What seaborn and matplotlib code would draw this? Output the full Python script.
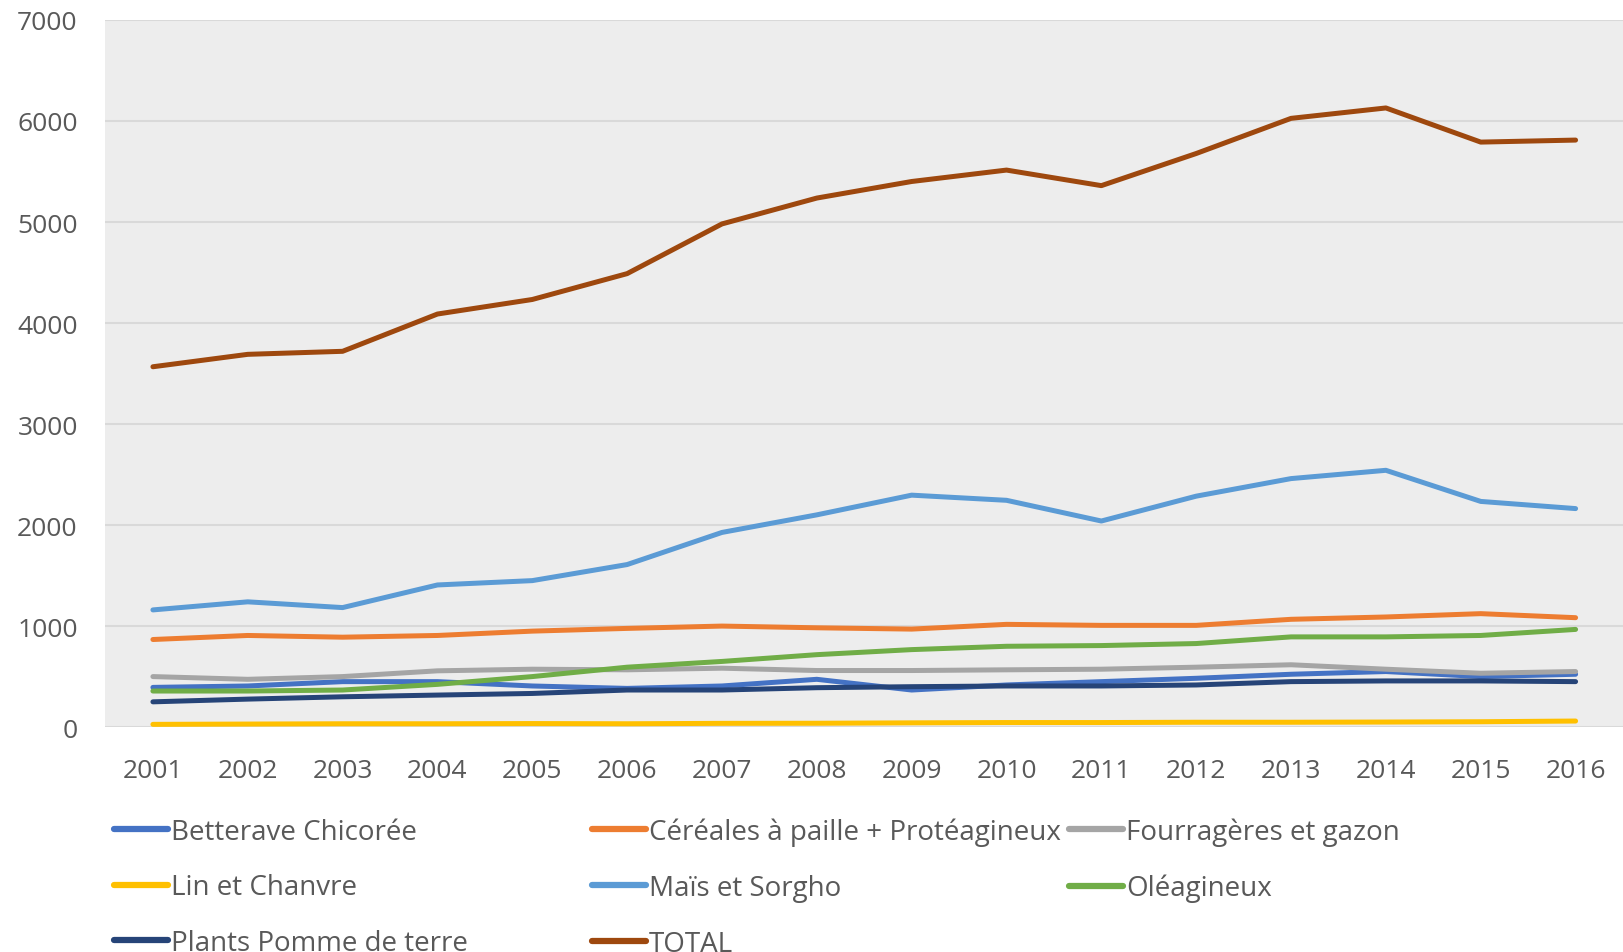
import matplotlib
matplotlib.use("Agg")
import matplotlib.pyplot as plt
import seaborn as sns
import pandas as pd
from matplotlib.lines import Line2D

years = list(range(2001, 2017))

betterave = [393, 407, 450, 450, 407, 383, 407, 473, 367, 417, 450, 483, 523, 550, 500, 523]
cereales = [867, 907, 890, 907, 950, 977, 1000, 983, 970, 1017, 1007, 1007, 1067, 1090, 1123, 1083]
fourrageres = [500, 473, 500, 557, 573, 567, 583, 560, 560, 567, 573, 593, 617, 573, 533, 550]
lin = [27, 30, 33, 33, 35, 33, 37, 38, 42, 45, 45, 48, 48, 50, 53, 60]
mais = [1160, 1240, 1183, 1407, 1450, 1609, 1927, 2101, 2296, 2245, 2040, 2286, 2460, 2542, 2234, 2163]
oleagineux = [357, 357, 367, 423, 500, 593, 650, 717, 767, 800, 807, 827, 893, 893, 907, 967]
plants = [250, 277, 300, 317, 333, 367, 367, 390, 400, 407, 407, 417, 450, 457, 457, 450]
total = [3567, 3690, 3720, 4089, 4233, 4489, 4981, 5237, 5401, 5514, 5360, 5678, 6026, 6129, 5791, 5811]

series_names = ["Betterave Chicorée", "Céréales à paille + Protéagineux", "Fourragères et gazon",
                "Lin et Chanvre", "Maïs et Sorgho", "Oléagineux", "Plants Pomme de terre", "TOTAL"]
series_values = [betterave, cereales, fourrageres, lin, mais, oleagineux, plants, total]
colors = ["#4472C4", "#ED7D31", "#A5A5A5", "#FFC000", "#5B9BD5", "#70AD47", "#264478", "#9E480E"]

rows = []
for name, vals in zip(series_names, series_values):
    for y, v in zip(years, vals):
        rows.append({"annee": y, "valeur": v, "culture": name})
df = pd.DataFrame(rows)

sns.set_style("white")
plt.rcParams["font.family"] = ["Open Sans", "DejaVu Sans"]
txt = "#595959"

fig = plt.figure(figsize=(16.23, 9.53), dpi=100)
ax = fig.add_axes([0.065, 0.236, 0.935, 0.742])
ax.set_facecolor("#EDEDED")

sns.lineplot(data=df, x="annee", y="valeur", hue="culture", hue_order=series_names,
             palette=colors, linewidth=3.6, ax=ax, legend=False, zorder=3)
for line in ax.lines:
    line.set_solid_capstyle("round")

ax.set_xlim(2000.5, 2016.5)
ax.set_ylim(0, 7000)
ax.set_xticks(years)
ax.set_yticks(range(0, 7001, 1000))
ax.grid(axis="y", color="#D9D9D9", linewidth=1.5, zorder=0)
ax.set_axisbelow(True)
for s in ax.spines.values():
    s.set_visible(False)
ax.tick_params(axis="both", length=0, labelsize=19, colors=txt)
ax.tick_params(axis="x", pad=22)
ax.tick_params(axis="y", pad=20)
ax.set_xlabel("")
ax.set_ylabel("")

# legend in three fixed columns like the Excel layout
col_x = [114 / 1623, 592 / 1623, 1069 / 1623]
cols = [[0, 3, 6], [1, 4, 7], [2, 5]]
for cx, idx in zip(col_x, cols):
    handles = [Line2D([0], [0], color=colors[i], linewidth=4.5) for i in idx]
    labels = [series_names[i] for i in idx]
    leg = fig.legend(handles, labels, loc="upper left", bbox_to_anchor=(cx, 0.141),
                     frameon=False, fontsize=20, handlelength=1.95, handletextpad=0.1,
                     labelspacing=1.0, borderpad=0, borderaxespad=0)
    for t in leg.get_texts():
        t.set_color(txt)

fig.savefig("out.png", dpi=100)
